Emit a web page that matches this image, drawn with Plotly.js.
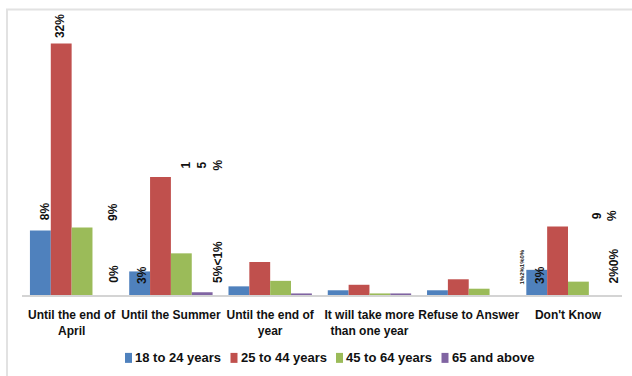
<!DOCTYPE html>
<html>
<head>
<meta charset="utf-8">
<script src="https://cdn.plot.ly/plotly-3.0.1.min.js"></script>
<style>html,body{margin:0;padding:0;background:#fff;}#chart{width:632px;height:376px;}</style>
</head>
<body>
<div id="chart"></div>
<script>
// ---- data ----
var categories = ["Until the end of<br>April", "Until the Summer", "Until the end of<br>year",
                  "It will take more<br>than one year", "Refuse to Answer", "Don't Know"];
var seriesNames = ["18 to 24 years", "25 to 44 years", "45 to 64 years", "65 and above"];
var age18to24 = [8.2, 3.0, 1.1, 0.6, 0.6, 3.2];
var age25to44 = [32.0, 15.0, 4.2, 1.3, 2.0, 8.7];
var age45to64 = [8.6, 5.3, 1.8, 0.2, 0.8, 1.7];
var age65plus = [0.0, 0.35, 0.2, 0.2, 0.0, 0.0];
// data labels as they appear in the picture
var labelTexts = ["8%", "32%", "9%", "0%", "3%", "1<br>5<br>%", "5%<1%", "1%2%1%0%", "3%", "9<br>%", "2%0%"];
var labelCats = [0, 0, 0, 0, 1, 1, 1, 5, 5, 5, 5];
var labelSeries = [0, 1, 2, 3, -1, 1, -1, -1, -1, 1, -1]; // -1: sits at the baseline

// ---- presentation ----
var colors = ["#4F81BD", "#C0504D", "#9BBB59", "#8064A2"];
var labelDx = [-27, -11, 42, 42, -29, 31, 47, -47, -28, 37, 45];
var labelDy = [8, 3, 4, 10, 9, 5, 10, 8, 9, 3, 9];
var labelSize = [12, 12, 12, 12, 12, 12, 12, 6, 12, 12, 12];

var allSeries = [age18to24, age25to44, age45to64, age65plus];
var FONT = '"Liberation Sans", Arial, sans-serif';

// plot-area geometry (pixels) used to place the hand-drawn legend
var L = 22, R = 10, T = 11.5, B = 81, W = 632, H = 376;
var pw = W - L - R, ph = H - T - B;
function px2x(px) { return (px - L) / pw; }
function py2y(py) { return (H - B - py) / ph; }

var traces = allSeries.map(function (vals, i) {
  return {
    type: 'bar', name: seriesNames[i], x: categories, y: vals,
    marker: {color: colors[i], line: {width: 0}},
    hoverinfo: 'none', showlegend: false
  };
});

var annotations = labelTexts.map(function (t, k) {
  var s = labelSeries[k];
  return {
    x: categories[labelCats[k]], y: s >= 0 ? allSeries[s][labelCats[k]] : 0,
    xref: 'x', yref: 'y', text: t, showarrow: false, textangle: -90,
    xanchor: 'center', yanchor: 'bottom', xshift: labelDx[k], yshift: labelDy[k],
    font: {family: FONT, size: labelSize[k], color: '#111', weight: 'bold'}
  };
});

var shapes = [{type: 'rect', xref: 'paper', yref: 'paper', x0: px2x(7), x1: 1.5, y0: -1.5, y1: py2y(9),
               line: {color: '#e2e2e2', width: 2}, fillcolor: 'rgba(0,0,0,0)', layer: 'below'}];

// legend (drawn by hand to match the compact spacing of the original)
var legX0 = 125, legStep = 105.5, legY = 358;
seriesNames.forEach(function (name, i) {
  var x = legX0 + legStep * i;
  shapes.push({type: 'rect', xref: 'paper', yref: 'paper',
               x0: px2x(x), x1: px2x(x + 7), y0: py2y(legY + 5), y1: py2y(legY - 5),
               line: {width: 0}, fillcolor: colors[i]});
  annotations.push({xref: 'paper', yref: 'paper', x: px2x(x + 8), y: py2y(legY),
                    xanchor: 'left', yanchor: 'middle', showarrow: false, text: name,
                    font: {family: FONT, size: 13, color: '#111', weight: 'bold'}});
});

var layout = {
  width: W, height: H,
  margin: {l: L, r: R, t: T, b: B, pad: 0, autoexpand: false},
  paper_bgcolor: '#fff', plot_bgcolor: '#fff',
  barmode: 'group', bargap: 0.16, bargroupgap: 0,
  showlegend: false,
  xaxis: {type: 'category', showline: true, linecolor: '#d4d4d4', linewidth: 1.5,
          ticks: '', showgrid: false, zeroline: false, fixedrange: true,
          tickangle: 0, automargin: false, ticklabelstandoff: 8,
          tickfont: {family: FONT, size: 12, color: '#111', weight: 'bold'}},
  yaxis: {range: [0, 36], showticklabels: false, showgrid: false, zeroline: false,
          showline: false, ticks: '', fixedrange: true, automargin: false},
  annotations: annotations,
  shapes: shapes
};

Plotly.newPlot('chart', traces, layout, {staticPlot: true, displayModeBar: false});
</script>
</body>
</html>
